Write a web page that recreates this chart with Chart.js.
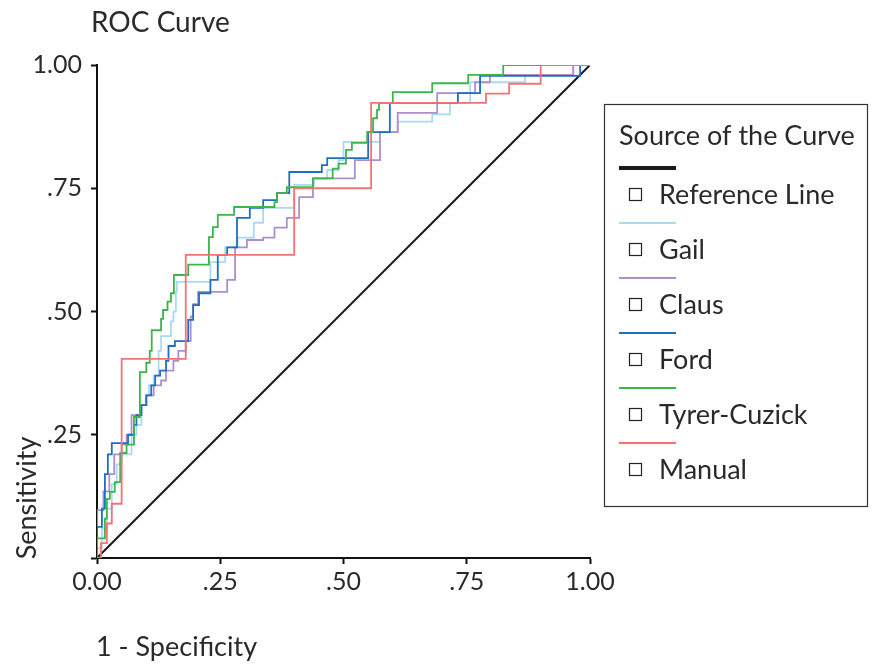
<!DOCTYPE html>
<html>
<head>
<meta charset="utf-8">
<script src="https://cdn.jsdelivr.net/npm/chart.js@4"></script>
<style>
html,body{margin:0;padding:0;background:#fff;}
#wrap{position:relative;width:874px;height:664px;}
</style>
</head>
<body>
<div id="wrap"><canvas id="c" width="874" height="664"></canvas></div>
<script>
// ---- data (1 - specificity, sensitivity) ----
const refFpr = [0, 1];
const refTpr = [0, 1];

const gailFpr = [0,0,0.01,0.01,0.02,0.02,0.03,0.03,0.04,0.04,0.05,0.05,0.07,0.07,0.08,0.08,0.09,0.09,0.10,0.10,0.105,0.105,0.115,0.115,0.125,0.125,0.13,0.13,0.15,0.15,0.155,0.155,0.16,0.16,0.162,0.162,0.23,0.23,0.26,0.26,0.285,0.285,0.318,0.318,0.337,0.337,0.40,0.40,0.44,0.44,0.467,0.467,0.49,0.49,0.50,0.50,0.574,0.574,0.61,0.61,0.68,0.68,0.716,0.716,0.757,0.757,0.868,0.868,0.966,0.966,1];
const gailTpr = [0,0.02,0.02,0.06,0.06,0.10,0.10,0.15,0.15,0.19,0.19,0.21,0.21,0.25,0.25,0.27,0.27,0.31,0.31,0.33,0.33,0.35,0.35,0.37,0.37,0.42,0.42,0.45,0.45,0.48,0.48,0.50,0.50,0.54,0.54,0.56,0.56,0.60,0.60,0.63,0.63,0.65,0.65,0.68,0.68,0.71,0.71,0.757,0.757,0.77,0.77,0.787,0.787,0.807,0.807,0.844,0.844,0.864,0.864,0.885,0.885,0.90,0.90,0.923,0.923,0.965,0.965,0.98,0.98,1,1];

const clausFpr = [0,0,0.013,0.013,0.025,0.025,0.035,0.035,0.05,0.05,0.06,0.06,0.07,0.07,0.09,0.09,0.10,0.10,0.115,0.115,0.13,0.13,0.14,0.14,0.155,0.155,0.165,0.165,0.18,0.18,0.19,0.19,0.195,0.195,0.205,0.205,0.264,0.264,0.28,0.28,0.304,0.304,0.337,0.337,0.36,0.36,0.385,0.385,0.41,0.41,0.438,0.438,0.523,0.523,0.574,0.574,0.61,0.61,0.69,0.69,0.767,0.767,0.797,0.797,0.966,0.966,1];
const clausTpr = [0,0.097,0.097,0.135,0.135,0.17,0.17,0.21,0.21,0.23,0.23,0.25,0.25,0.29,0.29,0.31,0.31,0.33,0.33,0.35,0.35,0.36,0.36,0.38,0.38,0.40,0.40,0.42,0.42,0.44,0.44,0.49,0.49,0.515,0.515,0.54,0.54,0.564,0.564,0.63,0.63,0.645,0.645,0.65,0.65,0.67,0.67,0.69,0.69,0.732,0.732,0.77,0.77,0.807,0.807,0.864,0.864,0.903,0.903,0.943,0.943,0.965,0.965,0.98,0.98,1,1];

const fordFpr = [0,0,0.01,0.01,0.016,0.016,0.022,0.022,0.03,0.03, 0.063,0.063,0.075,0.075,0.08,0.08,0.09,0.09,0.10,0.10, 0.11,0.11,0.118,0.118,0.128,0.128,0.14,0.14,0.145,0.145, 0.158,0.158,0.185,0.185,0.195,0.195,0.207,0.207,0.23,0.23, 0.245,0.245,0.264,0.264,0.284,0.284,0.31,0.31,0.337,0.337, 0.365,0.365,0.39,0.39,0.456,0.456,0.467,0.467,0.55,0.55, 0.594,0.594,0.732,0.732,0.777,0.777,0.98,0.98,1];
const fordTpr = [0,0.063,0.063,0.10,0.10,0.17,0.17,0.21,0.21,0.233, 0.233,0.25,0.25,0.27,0.27,0.29,0.29,0.31,0.31,0.33, 0.33,0.35,0.35,0.37,0.37,0.38,0.38,0.40,0.40,0.43, 0.43,0.44,0.44,0.483,0.483,0.513,0.513,0.537,0.537,0.564, 0.564,0.615,0.615,0.63,0.63,0.69,0.69,0.71,0.71,0.726, 0.726,0.74,0.74,0.783,0.783,0.797,0.797,0.811,0.811,0.864, 0.864,0.923,0.923,0.943,0.943,0.978,0.978,1,1];

const tyrerFpr = [0,0,0.016,0.016,0.02,0.02,0.026,0.026,0.036,0.036,0.047,0.047,0.06,0.06,0.075,0.075,0.087,0.087,0.10,0.10,0.107,0.107,0.111,0.111,0.13,0.13,0.134,0.134,0.143,0.143,0.15,0.15,0.156,0.156,0.185,0.185,0.227,0.227,0.235,0.235,0.245,0.245,0.278,0.278,0.36,0.36,0.365,0.365,0.385,0.385,0.438,0.438,0.478,0.478,0.49,0.49,0.505,0.505,0.517,0.517,0.548,0.548,0.56,0.56,0.568,0.568,0.572,0.572,0.60,0.60,0.68,0.68,0.753,0.753,0.824,0.824,1];
const tyrerTpr = [0,0.04,0.04,0.08,0.08,0.12,0.12,0.134,0.134,0.154,0.154,0.213,0.213,0.23,0.23,0.286,0.286,0.377,0.377,0.396,0.396,0.42,0.42,0.462,0.462,0.485,0.485,0.503,0.503,0.52,0.52,0.537,0.537,0.574,0.574,0.595,0.595,0.651,0.651,0.671,0.671,0.696,0.696,0.712,0.712,0.722,0.722,0.74,0.74,0.752,0.752,0.77,0.77,0.79,0.79,0.80,0.80,0.828,0.828,0.842,0.842,0.864,0.864,0.892,0.892,0.909,0.909,0.923,0.923,0.945,0.945,0.963,0.963,0.98,0.98,1,1];

const manualFpr = [0,0.008,0.008,0.02,0.02,0.03,0.03,0.05,0.05,0.18,0.18,0.40,0.40,0.556,0.556,0.789,0.789,0.836,0.836,0.90,0.90,1];
const manualTpr = [0,0,0.03,0.03,0.07,0.07,0.11,0.11,0.404,0.404,0.615,0.615,0.75,0.75,0.923,0.923,0.942,0.942,0.962,0.962,1,1];

const seriesNames = ['Reference Line','Gail','Claus','Ford','Tyrer-Cuzick','Manual'];
const seriesColors = ['#1a1a1a','#a9daf2','#ad8fcb','#1f6fc1','#3cb54b','#f27373'];
const xTickLabels = {0:'0.00',0.25:'.25',0.5:'.50',0.75:'.75',1:'1.00'};
const yTickLabels = {0:'',0.25:'.25',0.5:'.50',0.75:'.75',1:'1.00'};

const FONT = 'Lato, "Open Sans", sans-serif';
const TXT = '#2a2a2a';

function pts(xs, ys){ return xs.map((x,i)=>({x:x, y:ys[i]})); }

const seriesX = [refFpr,gailFpr,clausFpr,fordFpr,tyrerFpr,manualFpr];
const seriesY = [refTpr,gailTpr,clausTpr,fordTpr,tyrerTpr,manualTpr];

const datasets = seriesNames.map((n,i)=>({
  label:n,
  data:pts(seriesX[i],seriesY[i]),
  borderColor:seriesColors[i],
  backgroundColor:seriesColors[i],
  borderWidth: i===0 ? 2 : 1.8,
  showLine:true,
  pointRadius:0,
  fill:false,
  tension:0,
  order: i===0 ? 10 : 6-i
}));

const decor = {
  id:'decor',
  afterDraw(chart){
    const ctx = chart.ctx;
    ctx.save();
    ctx.fillStyle = TXT;
    // title
    ctx.font = '28px ' + FONT;
    ctx.textAlign = 'left';
    ctx.textBaseline = 'alphabetic';
    ctx.fillText('ROC Curve', 91, 32);
    // x axis title
    ctx.font = '27px ' + FONT;
    ctx.fillText('1 - Specificity', 96, 656);
    // y axis title
    ctx.save();
    ctx.translate(36, 498);
    ctx.rotate(-Math.PI/2);
    ctx.textAlign = 'center';
    ctx.fillText('Sensitivity', 0, 0);
    ctx.restore();
    // legend box
    ctx.strokeStyle = '#333';
    ctx.lineWidth = 1.2;
    ctx.strokeRect(604.5, 104.5, 263, 402);
    ctx.font = '27px ' + FONT;
    ctx.fillText('Source of the Curve', 619, 145);
    const lineY0 = 168, step = 55;
    for (let i=0;i<seriesNames.length;i++){
      const ly = lineY0 + i*step;
      ctx.strokeStyle = seriesColors[i];
      ctx.lineWidth = i===0 ? 4 : 2;
      ctx.beginPath(); ctx.moveTo(619, ly); ctx.lineTo(676, ly); ctx.stroke();
      const ty = ly + 27;
      ctx.strokeStyle = '#222'; ctx.lineWidth = 1.2;
      ctx.strokeRect(629.5, ty-6.5, 12, 12);
      ctx.fillStyle = TXT;
      ctx.textBaseline = 'middle';
      ctx.fillText(seriesNames[i], 659, ty);
      ctx.textBaseline = 'alphabetic';
    }
    ctx.restore();
  }
};

new Chart(document.getElementById('c'), {
  type:'scatter',
  data:{datasets:datasets},
  options:{
    responsive:false,
    animation:false,
    devicePixelRatio:1,
    layout:{padding:{left:0, top:65, right:284, bottom:0}},
    plugins:{legend:{display:false}, title:{display:false}, tooltip:{enabled:false}},
    scales:{
      x:{
        type:'linear', min:0, max:1,
        afterFit(s){ s.height = 106; },
        border:{display:true, color:'#111', width:2},
        grid:{display:true, drawOnChartArea:false, drawTicks:true, tickLength:6, tickColor:'#111', tickWidth:2},
        ticks:{stepSize:0.25, padding:3, color:TXT, font:{family:FONT, size:25},
          callback:(v)=> xTickLabels[v] !== undefined ? xTickLabels[v] : ''}
      },
      y:{
        type:'linear', min:0, max:1,
        afterFit(s){ s.width = 97; },
        border:{display:true, color:'#111', width:2},
        grid:{display:true, drawOnChartArea:false, drawTicks:true, tickLength:6, tickColor:'#111', tickWidth:2},
        ticks:{stepSize:0.25, padding:9, color:TXT, font:{family:FONT, size:25},
          callback:(v)=> yTickLabels[v] !== undefined ? yTickLabels[v] : ''}
      }
    }
  },
  plugins:[decor]
});
</script>
</body>
</html>
